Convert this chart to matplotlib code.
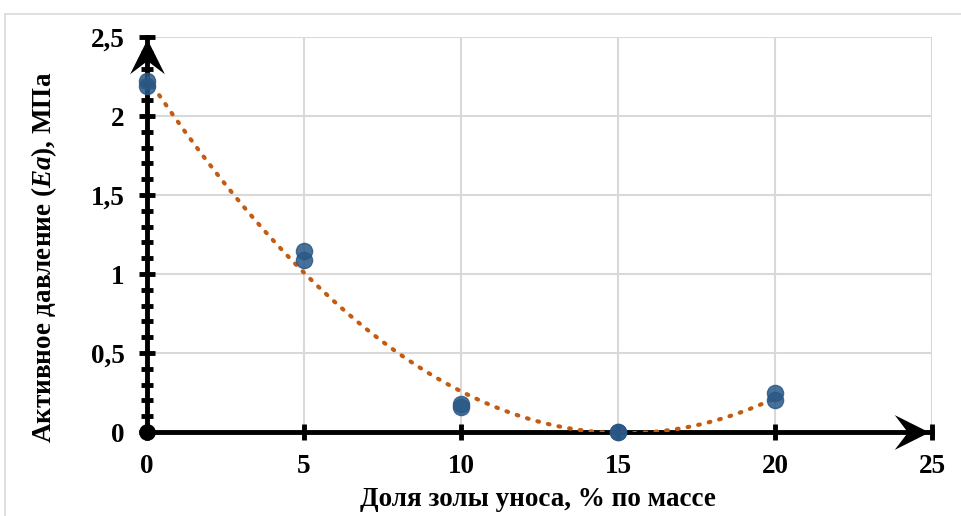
import numpy as np
import matplotlib
matplotlib.use("Agg")
import matplotlib.pyplot as plt
from matplotlib.patches import Rectangle
from matplotlib.path import Path
from matplotlib.ticker import MultipleLocator, FuncFormatter

plt.rcParams["font.family"] = ["Liberation Serif", "DejaVu Serif"]
plt.rcParams["font.weight"] = "bold"
plt.rcParams["mathtext.fontset"] = "custom"
plt.rcParams["mathtext.it"] = "Liberation Serif:italic:bold"
plt.rcParams["mathtext.rm"] = "Liberation Serif:bold"

# данные (доля золы, % / активное давление, МПа)
ash = [0, 0, 5, 5, 10, 10, 15, 15, 20, 20]
pressure = [2.19, 2.22, 1.09, 1.145, 0.16, 0.18, 0.0, 0.0, 0.20, 0.25]

x_ticks = [0, 5, 10, 15, 20, 25]
y_ticks = [0, 0.5, 1, 1.5, 2, 2.5]

MARK_COLOR = "#2A5886"
TREND_COLOR = "#C55A11"

fig = plt.figure(figsize=(9.61, 5.16), dpi=100)
ax = fig.add_axes([147 / 961, 1 - 432 / 516, (932 - 147) / 961, (432 - 37) / 516])

# рамка вокруг диаграммы
fig.patches.append(Rectangle((5 / 961, -0.1), 1.2, 1 - 14 / 516 + 0.1,
                             transform=fig.transFigure, fill=False,
                             edgecolor="#D9D9D9", linewidth=1.2))

ax.set_xlim(0, 25)
ax.set_ylim(0, 2.5)
ax.set_xticks(x_ticks)
ax.set_yticks(y_ticks)
ax.yaxis.set_minor_locator(MultipleLocator(0.1))
fmt = FuncFormatter(lambda v, p: f"{v:g}".replace(".", ","))
ax.xaxis.set_major_formatter(fmt)
ax.yaxis.set_major_formatter(fmt)

ax.grid(True, which="major", color="#D9D9D9", linewidth=1.5)
ax.set_axisbelow(True)
for s in ["top", "right"]:
    ax.spines[s].set_visible(False)
for s in ["left", "bottom"]:
    ax.spines[s].set_linewidth(3.5)
    ax.spines[s].set_zorder(3)

ax.tick_params(axis="both", which="major", direction="inout", length=12, width=3.5,
               labelsize=19.5)
ax.tick_params(axis="y", which="minor", direction="inout", length=9, width=3.5)
ax.tick_params(axis="x", pad=10)
ax.tick_params(axis="y", pad=10)

# стрелки осей (наконечник типа "stealth", острие в точке маркера)
stealth_right = Path([(0, 0), (-1, 0.5), (-0.62, 0), (-1, -0.5), (0, 0)],
                     [Path.MOVETO, Path.LINETO, Path.LINETO, Path.LINETO, Path.CLOSEPOLY])
stealth_up = Path([(0, 0), (-0.5, -1), (0, -0.62), (0.5, -1), (0, 0)],
                  [Path.MOVETO, Path.LINETO, Path.LINETO, Path.LINETO, Path.CLOSEPOLY])
ax.plot([24.9], [0], marker=stealth_right, markersize=50, color="black",
        markeredgewidth=0, clip_on=False, zorder=6)
ax.plot([0], [2.485], marker=stealth_up, markersize=50, color="black",
        markeredgewidth=0, clip_on=False, zorder=6)
ax.plot([0], [0], "o", color="black", markersize=11, clip_on=False, zorder=6)

# линия тренда (полином 2-й степени)
coef = np.polyfit(ash, pressure, 2)
xs = np.linspace(0, 20, 200)
ax.plot(xs, np.polyval(coef, xs), linestyle=(0, (0.4, 2.2)), color=TREND_COLOR,
        linewidth=3, dash_capstyle="round", zorder=4)

ax.scatter(ash, pressure, s=135, color=MARK_COLOR, alpha=0.85, edgecolor=MARK_COLOR,
           linewidth=1, clip_on=False, zorder=4)

fig.text(538 / 961, 1 - 500 / 516, "Доля золы уноса, % по массе", ha="center", va="center",
         fontsize=19.5, fontweight="bold")
fig.text(44 / 961, 1 - 257 / 516, r"Активное давление ($\mathit{Ea}$), МПа", ha="center",
         va="center", rotation=90, fontsize=19.5, fontweight="bold")

fig.savefig("out.png", dpi=100)
